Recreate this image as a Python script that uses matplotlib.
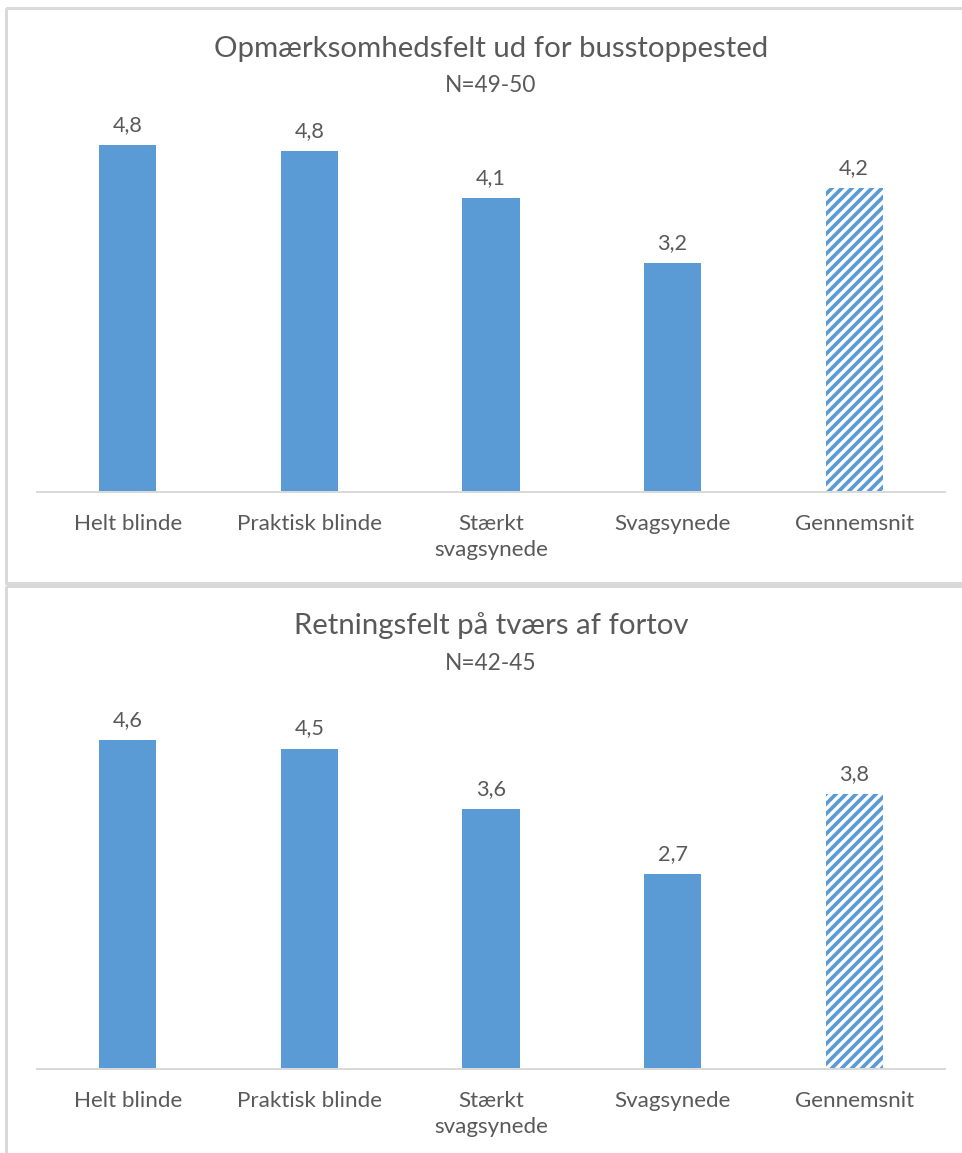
import matplotlib
matplotlib.use("Agg")
import matplotlib.pyplot as plt
from matplotlib.patches import Rectangle

plt.rcParams['font.family'] = ['Lato', 'DejaVu Sans']
plt.rcParams['hatch.linewidth'] = 2.2

categories = ["Helt blinde", "Praktisk blinde", "Stærkt\nsvagsynede", "Svagsynede", "Gennemsnit"]
titles = ["Opmærksomhedsfelt ud for busstoppested", "Retningsfelt på tværs af fortov"]
subtitles = ["N=49-50", "N=42-45"]
values_bus = [4.84, 4.76, 4.10, 3.19, 4.24]
values_fortov = [4.59, 4.47, 3.63, 2.72, 3.83]

BLUE = "#5B9BD5"
TEXT = "#595959"
GRID = "#D9D9D9"

W, H = 962, 1153
DPI = 120
fig = plt.figure(figsize=(W / DPI, H / DPI), dpi=DPI)


def px_axes(left, top, right, bottom):
    return fig.add_axes([left / W, 1 - bottom / H, (right - left) / W, (bottom - top) / H])


# frames around the two charts
frame = fig.add_axes([0, 0, 1, 1])
frame.set_xlim(0, W)
frame.set_ylim(H, 0)
frame.axis("off")
frame.add_patch(Rectangle((6, 8), W + 10, 575, fill=False, ec=GRID, lw=1.8))
frame.add_patch(Rectangle((6, 586), W + 10, H, fill=False, ec=GRID, lw=1.8))


def draw_chart(base, values, title, sub):
    ax = px_axes(37, base - 392, 945, base)
    x = range(len(categories))
    colors = [BLUE] * (len(values) - 1) + ["white"]
    bars = ax.bar(x, values, width=0.315, color=colors, edgecolor="none")
    last = bars[-1]
    last.set_hatch("////")
    last._hatch_color = matplotlib.colors.to_rgba(BLUE)
    ax.set_xlim(-0.5, len(categories) - 0.5)
    ax.set_ylim(0, 392 / 71.7)
    for s in ["top", "left", "right"]:
        ax.spines[s].set_visible(False)
    ax.spines["bottom"].set_color(GRID)
    ax.spines["bottom"].set_linewidth(1.2)
    ax.set_yticks([])
    ax.set_xticks(list(x))
    ax.set_xticklabels(categories, fontsize=13.4, color=TEXT, linespacing=1.4)
    ax.tick_params(axis="x", length=0, pad=13)
    for b, v in zip(bars, values):
        ax.annotate(f"{v:.1f}".replace(".", ","), (b.get_x() + b.get_width() / 2, v),
                    xytext=(0, 6), textcoords="offset points", ha="center", va="bottom",
                    fontsize=13, color=TEXT)
    frame.text(491, base - 443, title, ha="center", va="center", fontsize=17.6, color=TEXT)
    frame.text(491, base - 406, sub, ha="center", va="center", fontsize=13.6, color=TEXT)


draw_chart(492, values_bus, titles[0], subtitles[0])
draw_chart(1069, values_fortov, titles[1], subtitles[1])

fig.savefig("out.png", dpi=DPI)
